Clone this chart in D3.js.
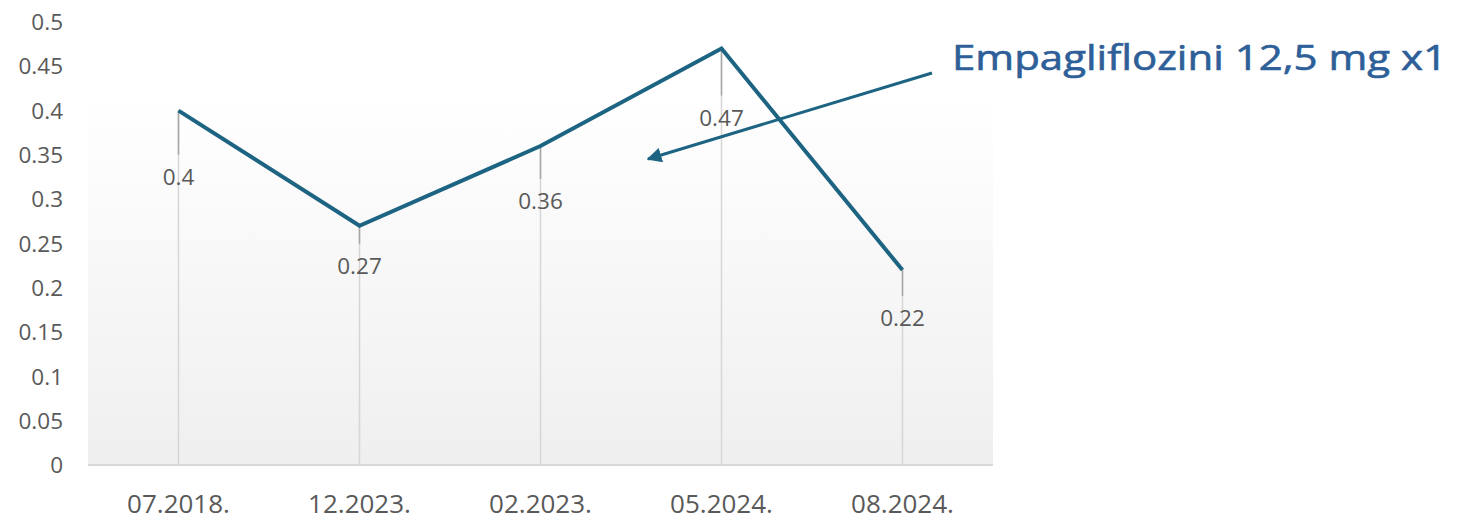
<!DOCTYPE html>
<html>
<head>
<title>Empagliflozini</title>
<script src="https://d3js.org/d3.v7.min.js"></script>
</head>
<body style="margin:0;background:#fff">
<script>

var dates = ['07.2018.', '12.2023.', '02.2023.', '05.2024.', '08.2024.'];
var values = [0.4, 0.27, 0.36, 0.47, 0.22];
var yTicks = [0, 0.05, 0.1, 0.15, 0.2, 0.25, 0.3, 0.35, 0.4, 0.45, 0.5];
var note = 'Empagliflozini 12,5 mg x1';

// how far each data label sits below its point (px)
var labelDrop = [66, 40, 55, 69, 48];

var W = 1460, H = 520;
var svg = d3.select('body').append('svg').attr('width', W).attr('height', H);

var x = d3.scaleBand().domain(dates).range([88, 993]);
var y = d3.scaleLinear().domain([0, 0.5]).range([465, 22]);
var cx = function (d) { return x(d) + x.bandwidth() / 2; };

var defs = svg.append('defs');
var grad = defs.append('linearGradient').attr('id', 'bg')
	.attr('x1', 0).attr('y1', 0).attr('x2', 0).attr('y2', 1);
grad.append('stop').attr('offset', '0%').attr('stop-color', '#ffffff');
grad.append('stop').attr('offset', '100%').attr('stop-color', '#efefef');

var mk = defs.append('marker').attr('id', 'arr')
	.attr('viewBox', '0 0 10 10').attr('refX', 9).attr('refY', 5)
	.attr('markerWidth', 5).attr('markerHeight', 5)
	.attr('markerUnits', 'strokeWidth').attr('orient', 'auto');
mk.append('path').attr('d', 'M0,0 L10,5 L0,10 z').attr('fill', '#1d6382');

svg.append('rect').attr('x', 88).attr('y', 97).attr('width', 905).attr('height', 368)
	.attr('fill', 'url(#bg)');

// drop lines
svg.selectAll('.drop').data(values).enter().append('line')
	.attr('x1', function (d, i) { return cx(dates[i]); })
	.attr('x2', function (d, i) { return cx(dates[i]); })
	.attr('y1', function (d) { return y(d); })
	.attr('y2', y(0))
	.attr('stroke', '#d6d6d6').attr('stroke-width', 1.5);

// leader lines
svg.selectAll('.lead').data(values).enter().append('line')
	.attr('x1', function (d, i) { return cx(dates[i]); })
	.attr('x2', function (d, i) { return cx(dates[i]); })
	.attr('y1', function (d) { return y(d); })
	.attr('y2', function (d, i) { return y(d) + labelDrop[i] - 22; })
	.attr('stroke', '#a6a6a6').attr('stroke-width', 1.5);

// x axis line
svg.append('line').attr('x1', 88).attr('x2', 993).attr('y1', y(0)).attr('y2', y(0))
	.attr('stroke', '#d9d9d9').attr('stroke-width', 2);

// y tick labels
svg.selectAll('.yt').data(yTicks).enter().append('text')
	.attr('x', 63).attr('y', function (d) { return y(d); })
	.attr('dy', '0.36em').attr('text-anchor', 'end')
	.style('font-family', 'Open Sans').style('font-size', '22.5px').style('fill', '#595959')
	.text(function (d) { return d3.format('~g')(d); });

// x labels
svg.selectAll('.xt').data(dates).enter().append('text')
	.attr('x', cx).attr('y', 513).attr('text-anchor', 'middle')
	.style('font-family', 'Open Sans').style('font-size', '26px').style('fill', '#595959')
	.text(function (d) { return d; });

// series line
var line = d3.line()
	.x(function (d, i) { return cx(dates[i]); })
	.y(function (d) { return y(d); });
svg.append('path').datum(values).attr('d', line)
	.attr('fill', 'none').attr('stroke', '#1d6382').attr('stroke-width', 4)
	.attr('stroke-linejoin', 'miter');

// data labels
svg.selectAll('.dl').data(values).enter().append('text')
	.attr('x', function (d, i) { return cx(dates[i]); })
	.attr('y', function (d, i) { return y(d) + labelDrop[i]; })
	.attr('dy', '0.36em').attr('text-anchor', 'middle')
	.style('font-family', 'Open Sans').style('font-size', '22.5px').style('fill', '#595959')
	.text(function (d) { return d; });

// annotation
svg.append('line').attr('x1', 932).attr('y1', 73).attr('x2', 648).attr('y2', 159)
	.attr('stroke', '#1d6382').attr('stroke-width', 3).attr('marker-end', 'url(#arr)');
svg.append('text').attr('x', 952).attr('y', 70)
	.attr('textLength', 495).attr('lengthAdjust', 'spacingAndGlyphs')
	.style('font-family', 'Open Sans').style('font-size', '34px').style('fill', '#2e5f98')
	.style('stroke', '#2e5f98').style('stroke-width', 0.6)
	.text(note);

</script>
</body>
</html>
